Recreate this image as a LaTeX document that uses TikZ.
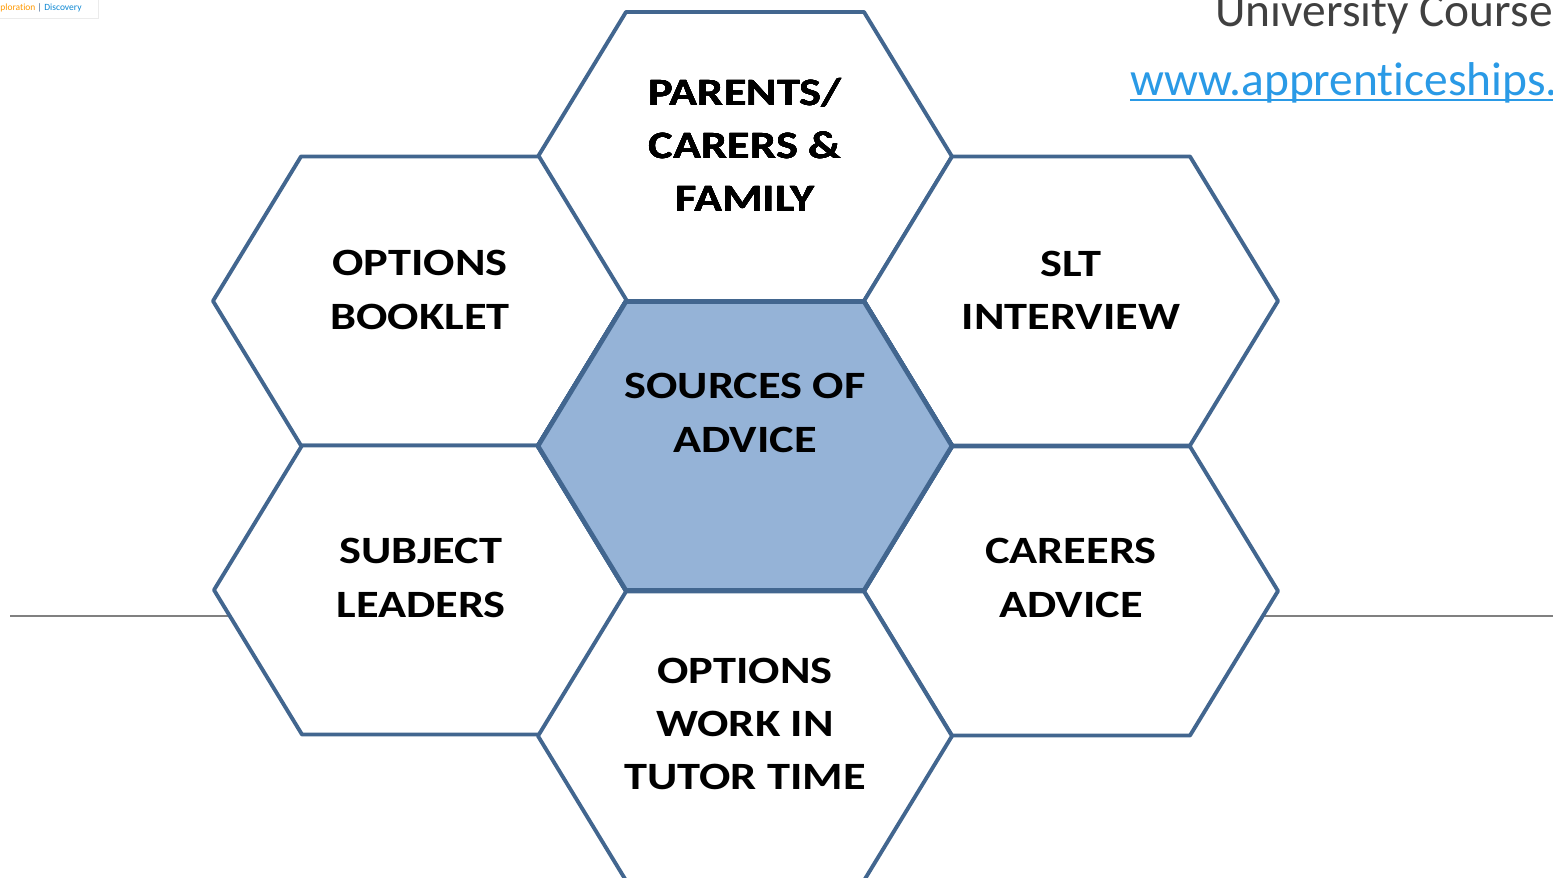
\documentclass[tikz,border=0pt]{standalone}
\usepackage{fontspec}
\setmainfont[Ligatures=NoCommon]{Carlito}
\newfontfamily\hexfont[FakeStretch=1.2,Ligatures=NoCommon,BoldFont=Carlito Bold]{Carlito}
\definecolor{hexline}{HTML}{42668F}
\definecolor{hexfill}{HTML}{95B3D7}
\definecolor{linkblue}{HTML}{2A9AE6}
\definecolor{headgrey}{HTML}{404040}
\tikzset{
    hexlabel/.style={align=center, font=\hexfont\fontsize{22}{30.3}\selectfont\bfseries, text=black, inner sep=0pt},
    hexedge/.style={draw=hexline, line width=2.2pt, line join=round}
}
\newcommand{\hexcell}[3]{\draw[hexedge, fill=#3] (#1-207,#2) -- (#1-119,#2-144.5) -- (#1+119,#2-144.5) -- (#1+207,#2) -- (#1+119,#2+144.5) -- (#1-119,#2+144.5) -- cycle;}
\begin{document}
\begin{tikzpicture}[x=0.02cm,y=-0.02cm]
    \useasboundingbox (0,0) rectangle (1553,877);
    \clip (0,0) rectangle (1553,877);
    \fill[white] (0,0) rectangle (1553,877);
    \coordinate (ruleA) at (10,616);
    \coordinate (ruleB) at (1553,616);
    \draw[gray, line width=0.6pt] (ruleA) -- (ruleB);
    \draw[black!8, fill=white, line width=0.5pt] (-2,-2) rectangle (98,18);
    \node[anchor=base west, inner sep=0pt, text=orange!80!yellow, font=\fontsize{5.4}{6}\selectfont] (badgeA) at (0,10) {ploration};
    \node[anchor=base west, inner sep=0pt, text=hexline, font=\fontsize{5.4}{6}\selectfont] (badgeB) at (badgeA.base east) {\,|\,};
    \node[anchor=base west, inner sep=0pt, text=cyan!70!blue, font=\fontsize{5.4}{6}\selectfont] (badgeC) at (badgeB.base east) {Discovery};
    \node[anchor=base east, inner sep=0pt, text=headgrey, font=\fontsize{27}{30}\selectfont] (course) at (1553,26) {University Course};
    \node[anchor=base west, inner sep=0pt, text=linkblue, font=\fontsize{27}{30}\selectfont] (link) at (1130,95) {www.apprenticeships.};
    \coordinate (linkA) at (1130,100);
    \coordinate (linkB) at (1553,100);
    \draw[linkblue, line width=1.1pt] (linkA) -- (linkB);
    \foreach \cx/\cy in {745/156.5, 420/301, 1071/301, 421/590, 1071/591, 745/736}
        \hexcell{\cx}{\cy}{white}
    \begin{scope}[hexedge/.append style={line width=2.6pt}]
        \hexcell{745}{446}{hexfill}
    \end{scope}
    \node[hexlabel] (parents) at (745,145) {PARENTS/\\CARERS \&\\FAMILY};
    \node[hexlabel] (booklet) at (420,290) {OPTIONS\\BOOKLET};
    \node[hexlabel] (slt) at (1071,290) {SLT\\INTERVIEW};
    \node[hexlabel] (sources) at (745,413) {SOURCES OF\\ADVICE};
    \node[hexlabel] (subject) at (421,578) {SUBJECT\\LEADERS};
    \node[hexlabel] (careers) at (1071,578) {CAREERS\\ADVICE};
    \node[hexlabel] (tutor) at (745,724) {OPTIONS\\WORK IN\\TUTOR TIME};
\end{tikzpicture}
\end{document}
